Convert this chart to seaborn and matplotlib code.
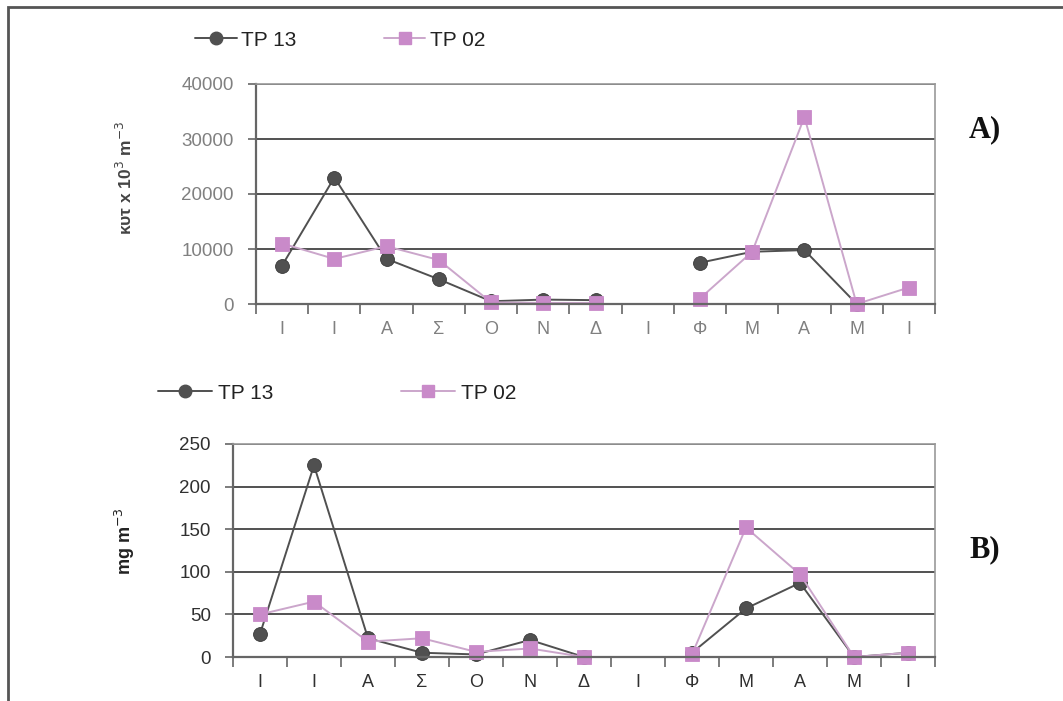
import numpy as np
import pandas as pd
import matplotlib
matplotlib.use("Agg")
import matplotlib.pyplot as plt
from matplotlib.lines import Line2D
from matplotlib.patches import Rectangle
import seaborn as sns

# === Data ===
months = ["Ι", "Ι", "Α", "Σ", "Ο", "Ν", "Δ", "Ι", "Φ", "Μ", "Α", "Μ", "Ι"]

# A) abundance (κυτ x 10^3 m^-3)
a_tp13 = [7000, 23000, 8200, 4500, 500, 800, 700, np.nan, 7500, 9500, 9800, 0, np.nan]
a_tp02 = [11000, 8200, 10500, 8000, 300, 200, 200, np.nan, 1000, 9500, 34000, 0, 3000]

# B) biomass (mg m^-3)
b_tp13 = [27, 225, 22, 5, 3, 20, 0, np.nan, 5, 57, 87, 0, 5]
b_tp02 = [50, 65, 18, 22, 6, 10, 0, np.nan, 3, 152, 97, 0, 5]

DARK = "#505050"
PINK = "#c98ac9"
PINK_LINE = "#cba6cb"


def to_long(tp13, tp02):
    # split each series at missing months so the line breaks there
    rows = []
    for name, vals in (("TP 13", tp13), ("TP 02", tp02)):
        seg = 0
        for i, v in enumerate(vals):
            if np.isnan(v):
                seg += 1
                continue
            rows.append({"pos": i, "value": v, "series": name, "seg": seg})
    return pd.DataFrame(rows)


sns.set_theme(style="white")
plt.rcParams["font.family"] = ["Liberation Sans", "DejaVu Sans"]

fig = plt.figure(figsize=(10.63, 7.01), dpi=100)
W, H = 1063, 701


def box(l, t, r, b):
    return [l / W, 1 - b / H, (r - l) / W, (b - t) / H]


ax_a = fig.add_axes(box(256, 84, 935, 304))
ax_b = fig.add_axes(box(233, 444, 935, 657))


def draw(ax, tp13, tp02, ymax, step, tick_color):
    df = to_long(tp13, tp02)
    sns.lineplot(data=df, x="pos", y="value", hue="series", style="series",
                 units="seg", estimator=None, sort=False,
                 palette={"TP 13": DARK, "TP 02": PINK},
                 markers={"TP 13": "o", "TP 02": "s"}, dashes=False,
                 markersize=10, linewidth=1.4, legend=False, ax=ax)
    for ln in ax.lines:
        ln.set_clip_on(False)
        ln.set_markeredgewidth(0.6)
        if ln.get_marker() == "s":
            ln.set_color(PINK_LINE)
            ln.set_markerfacecolor(PINK)
            ln.set_markeredgecolor(PINK)
        else:
            ln.set_markeredgecolor("#3a3a3a")
    ax.set_xlim(-0.5, 12.5)
    ax.set_ylim(0, ymax)
    ax.set_yticks(np.arange(0, ymax + 1, step))
    ax.set_xticks(range(len(months)))
    ax.set_xticklabels(months)
    ax.set_xticks(np.arange(-0.5, len(months), 1), minor=True)
    ax.set_xlabel("")
    ax.set_ylabel("")
    ax.tick_params(axis="x", which="major", bottom=False, length=0, pad=12,
                   labelsize=13, colors=tick_color)
    ax.tick_params(axis="x", which="minor", bottom=True, length=7, width=1.2,
                   direction="out", color="#666")
    ax.tick_params(axis="y", left=True, length=6, width=1.2, direction="out",
                   color="#666", labelsize=13.5, labelcolor=tick_color, pad=10)
    ax.yaxis.grid(True, color="#222222", linewidth=1.1)
    ax.set_axisbelow(True)
    for side in ("top", "right"):
        ax.spines[side].set_color("#999999")
        ax.spines[side].set_linewidth(1.2)
    for side in ("left", "bottom"):
        ax.spines[side].set_color("#666666")
        ax.spines[side].set_linewidth(1.6)


draw(ax_a, a_tp13, a_tp02, 40000, 10000, "#808080")
draw(ax_b, b_tp13, b_tp02, 250, 50, "#303030")

# === Legends above each panel ===
handles = [
    Line2D([], [], color=DARK, marker="o", markersize=9, lw=1.4),
    Line2D([], [], color=PINK_LINE, marker="s", markersize=9, lw=1.4,
           markerfacecolor=PINK, markeredgecolor=PINK),
]
leg_kw = dict(frameon=False, ncol=2, loc="center left", borderpad=0,
              borderaxespad=0, fontsize=15, labelcolor="#222222")
fig.legend(handles, ["TP 13", "TP 02"], bbox_to_anchor=(195 / W, 1 - 40 / H),
           handlelength=2.0, handletextpad=0.2, columnspacing=4.2, **leg_kw)
fig.legend(handles, ["TP 13", "TP 02"], bbox_to_anchor=(158 / W, 1 - 393 / H),
           handlelength=2.6, handletextpad=0.3, columnspacing=6.1, **leg_kw)

# === Axis titles and panel letters ===
fig.text(125 / W, 1 - 178 / H, "κυτ x 10$^{3}$ m$^{-3}$", rotation=90,
         ha="center", va="center", fontsize=12.5, fontweight="bold", color="#444444")
fig.text(125 / W, 1 - 541 / H, "mg m$^{-3}$", rotation=90,
         ha="center", va="center", fontsize=13, fontweight="bold", color="#222222")
fig.text(985 / W, 1 - 130 / H, "A)", ha="center", va="center", fontsize=22,
         fontweight="bold", family="Liberation Serif", color="#111111")
fig.text(985 / W, 1 - 550 / H, "B)", ha="center", va="center", fontsize=22,
         fontweight="bold", family="Liberation Serif", color="#111111")

# outer frame of the scanned figure
fig.patches.append(Rectangle((8 / W, -0.05), 1.2, 1 - 7 / H + 0.05,
                             transform=fig.transFigure, fill=False,
                             edgecolor="#555555", linewidth=2))

fig.savefig("out.png", dpi=100)
